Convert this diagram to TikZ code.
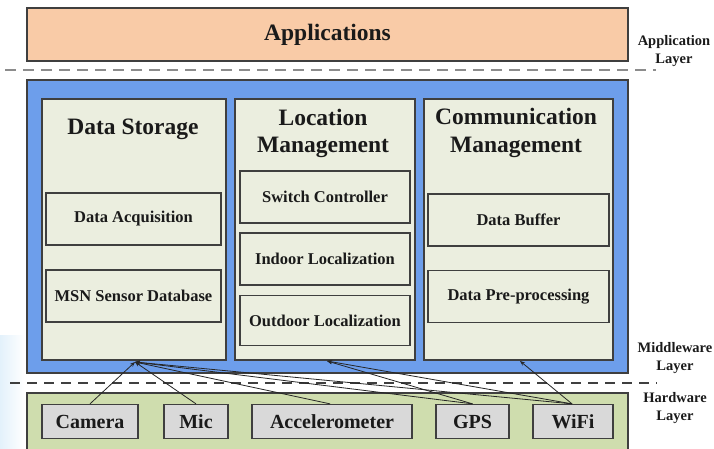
\documentclass[tikz,border=0pt]{standalone}
\usepackage{fontspec}
\setmainfont{Liberation Serif}
\usetikzlibrary{arrows.meta}

\definecolor{appfill}{HTML}{F9CBA7}
\definecolor{midfill}{HTML}{6D9EEB}
\definecolor{panelfill}{HTML}{EBEEDF}
\definecolor{hwfill}{HTML}{CFDDAE}
\definecolor{devfill}{HTML}{D9D9D9}
\definecolor{edge}{HTML}{3F3F3F}
\definecolor{ink}{HTML}{1A1A1A}
\definecolor{sidetint}{HTML}{E3F1FB}

\tikzset{
  layerbox/.style={draw=edge, line width=1.3pt, inner sep=0pt},
  panel/.style={draw=edge, fill=panelfill, line width=1.2pt, inner sep=0pt},
  subbox/.style={draw=edge, fill=panelfill, line width=1.1pt, inner sep=0pt,
    text=ink, font=\fontsize{16.5}{18}\selectfont\bfseries},
  device/.style={draw=edge, fill=devfill, line width=1.3pt, inner sep=0pt,
    text=ink, font=\fontsize{20}{22}\selectfont\bfseries},
  paneltitle/.style={anchor=base, inner sep=0pt, text=ink,
    font=\fontsize{23.5}{27}\selectfont\bfseries},
  layerlabel/.style={align=center, inner sep=0pt, text=ink,
    font=\fontsize{14.5}{18}\selectfont\bfseries},
  sepline/.style={line width=2.6pt, draw=black!45, dash pattern=on 11pt off 7pt},
  sepline2/.style={line width=1.8pt, draw=edge, dash pattern=on 10pt off 7pt},
  link/.style={draw=black!85, line width=0.8pt, -{Stealth[length=5pt,width=4pt]}}
}

\begin{document}
\begin{tikzpicture}[x=1pt, y=-1pt]
  \useasboundingbox (0,0) rectangle (714,449);
  \fill[white] (0,0) rectangle (714,449);
  \shade[left color=sidetint, right color=white] (0,335) rectangle (24,449);

  % application layer
  \node[layerbox, fill=appfill, minimum width=601pt, minimum height=53pt,
        text=ink, font=\fontsize{23.5}{27}\selectfont\bfseries]
        (apps) at (327.5,34.5) {Applications};
  \node[layerlabel] (applbl) at (674,51) {Application\\Layer};

  \coordinate (sepAL) at (5,70);
  \coordinate (sepAR) at (656,70);
  \draw[sepline] (sepAL) -- (sepAR);

  % middleware layer
  \node[layerbox, fill=midfill, minimum width=601pt, minimum height=293pt]
        (mid) at (327.5,226.5) {};
  \node[layerlabel] (midlbl) at (675,358) {Middleware\\Layer};

  \node[panel, minimum width=184pt, minimum height=261pt] (ds) at (134,229.5) {};
  \node[panel, minimum width=180pt, minimum height=261pt] (lm) at (325,229.5) {};
  \node[panel, minimum width=189pt, minimum height=261pt] (cm) at (518.5,229.5) {};

  \node[paneltitle] (dst) at (133,135) {Data Storage};
  \node[paneltitle] (lmt1) at (323,126) {Location};
  \node[paneltitle] (lmt2) at (323,153) {Management};
  \node[paneltitle] (cmt1) at (516,125) {Communication};
  \node[paneltitle] (cmt2) at (516,153) {Management};

  \node[subbox, minimum width=175pt, minimum height=52pt] (acq) at (133.5,219) {Data Acquisition};
  \node[subbox, minimum width=175pt, minimum height=52pt] (msn) at (133.5,296) {MSN Sensor Database};

  \node[subbox, minimum width=170pt, minimum height=52pt] (sw) at (325,197) {Switch Controller};
  \node[subbox, minimum width=170pt, minimum height=52pt] (indoor) at (325,259) {Indoor Localization};
  \node[subbox, minimum width=170pt, minimum height=50pt] (outdoor) at (325,320.5) {Outdoor Localization};

  \node[subbox, minimum width=181pt, minimum height=52pt] (buf) at (518.5,220) {Data Buffer};
  \node[subbox, minimum width=181pt, minimum height=52pt] (pre) at (518.5,296.5) {Data Pre-processing};

  \coordinate (sepBL) at (10,383);
  \coordinate (sepBR) at (657,383);
  \draw[sepline2] (sepBL) -- (sepBR);

  % hardware layer
  \node[layerbox, fill=hwfill, minimum width=601pt, minimum height=62pt]
        (hw) at (327.5,424) {};
  \node[layerlabel] (hwlbl) at (675,408) {Hardware\\Layer};

  \node[device, minimum width=96pt, minimum height=34pt] (cam) at (90,421.5) {Camera};
  \node[device, minimum width=64pt, minimum height=34pt] (mic) at (196,421.5) {Mic};
  \node[device, minimum width=160pt, minimum height=34pt] (acc) at (332,421.5) {Accelerometer};
  \node[device, minimum width=73pt, minimum height=34pt] (gps) at (472.5,421.5) {GPS};
  \node[device, minimum width=80pt, minimum height=34pt] (wifi) at (573,421.5) {WiFi};

  % sensor feeds into the middleware panels
  \coordinate (dsin) at (135,362);
  \coordinate (lmin) at (327,361);
  \coordinate (cmin) at (520,361);

  \draw[link] (cam.north) -- (dsin);
  \draw[link] (mic.north) -- (dsin);
  \draw[link] ([xshift=-2pt]acc.north) -- (dsin);
  \draw[link] (gps.north) -- (dsin);
  \draw[link] ([xshift=-1pt]wifi.north) -- (dsin);
  \draw[link] (gps.north) -- (lmin);
  \draw[link] ([xshift=-1pt]wifi.north) -- (lmin);
  \draw[link] ([xshift=-1pt]wifi.north) -- (cmin);
\end{tikzpicture}
\end{document}
